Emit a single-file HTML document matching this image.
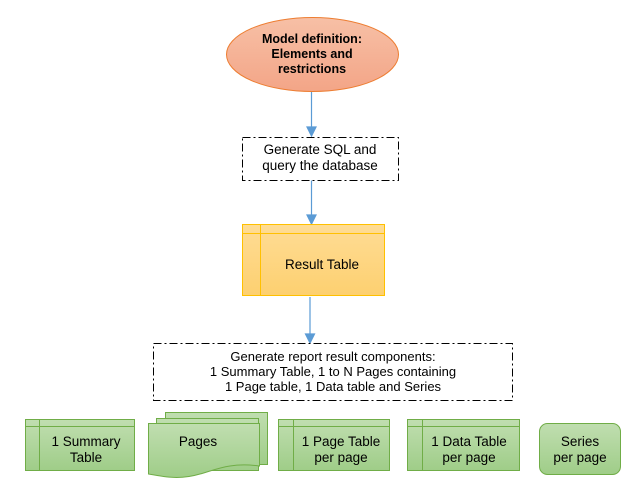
<!DOCTYPE html>
<html><head><meta charset="utf-8"><style>
html,body{margin:0;padding:0;background:#fff;}
svg{display:block;font-family:"Liberation Sans",Arial,sans-serif;}
</style></head><body>
<svg width="634" height="487" viewBox="0 0 634 487" xmlns="http://www.w3.org/2000/svg">
<defs>
<linearGradient id="og" x1="0" y1="0" x2="0" y2="1"><stop offset="0" stop-color="#f7c0a6"/><stop offset="1" stop-color="#f3a587"/></linearGradient>
<linearGradient id="yg" x1="0" y1="0" x2="0" y2="1"><stop offset="0" stop-color="#fedc95"/><stop offset="1" stop-color="#fdd070"/></linearGradient>
<linearGradient id="gg" x1="0" y1="0" x2="0" y2="1"><stop offset="0" stop-color="#c0deb0"/><stop offset="1" stop-color="#9fcd88"/></linearGradient>
</defs>
<g stroke="#5b9bd5" stroke-width="1.2" fill="#5b9bd5">
<line x1="311.5" y1="92" x2="311.5" y2="129"/><polygon points="307,127 316,127 311.5,136"/>
<line x1="311.5" y1="180" x2="311.5" y2="217"/><polygon points="307,215 316,215 311.5,224"/>
<line x1="310" y1="297" x2="310" y2="336"/><polygon points="305.5,334 314.5,334 310,343"/>
</g>
<ellipse cx="312.5" cy="54.5" rx="86" ry="37" fill="url(#og)" stroke="#ed7d31" stroke-width="1"/>
<g font-size="12.5" font-weight="bold" text-anchor="middle" fill="#000">
<text x="312" y="43">Model definition:</text><text x="312" y="58">Elements and</text><text x="312" y="73">restrictions</text>
</g>
<rect x="242.5" y="137.5" width="156" height="43" fill="#fff" stroke="#000" stroke-dasharray="8,3,2,3"/>
<g font-size="13.5" text-anchor="middle"><text x="320" y="154">Generate SQL and</text><text x="320" y="170">query the database</text></g>
<rect x="242.5" y="224.5" width="142" height="71" fill="url(#yg)" stroke="#ffc000"/>
<line x1="242.5" y1="233.5" x2="384.5" y2="233.5" stroke="#ffc000"/><line x1="260.5" y1="224.5" x2="260.5" y2="295.5" stroke="#ffc000"/>
<text x="322" y="269" font-size="13.5" text-anchor="middle">Result Table</text>
<rect x="153.5" y="343.5" width="359" height="57" fill="#fff" stroke="#000" stroke-dasharray="8,3,2,3"/>
<g font-size="13" text-anchor="middle"><text x="333" y="361">Generate report result components:</text><text x="333" y="376">1 Summary Table, 1 to N Pages containing</text><text x="333" y="391">1 Page table, 1 Data table and Series</text></g>
<g stroke="#70ad47" fill="url(#gg)">
<rect x="25.5" y="419.5" width="109" height="51"/>
<line x1="25.5" y1="426.5" x2="134.5" y2="426.5"/><line x1="39.5" y1="419.5" x2="39.5" y2="470.5"/>
<rect x="278.5" y="419.5" width="111" height="51"/>
<line x1="278.5" y1="426.5" x2="389.5" y2="426.5"/><line x1="293.5" y1="419.5" x2="293.5" y2="470.5"/>
<rect x="407.5" y="419.5" width="112" height="51"/>
<line x1="407.5" y1="426.5" x2="519.5" y2="426.5"/><line x1="422.5" y1="419.5" x2="422.5" y2="470.5"/>
<rect x="539.5" y="423.5" width="81" height="51" rx="8"/>
<rect x="165.5" y="412.5" width="102" height="52"/>
<rect x="156.5" y="418.5" width="102" height="52"/>
<path d="M148.5,423.5 H259.5 V466 C230,462 215,470 200,474 C180,480 165,477 148.5,474 Z"/>
</g>
<g font-size="13.5" text-anchor="middle">
<text x="86" y="446">1 Summary</text><text x="86" y="462">Table</text>
<text x="198" y="446">Pages</text>
<text x="341" y="446">1 Page Table</text><text x="341" y="462">per page</text>
<text x="469" y="446">1 Data Table</text><text x="469" y="462">per page</text>
<text x="580" y="446">Series</text><text x="580" y="462">per page</text>
</g>
</svg>
</body></html>
